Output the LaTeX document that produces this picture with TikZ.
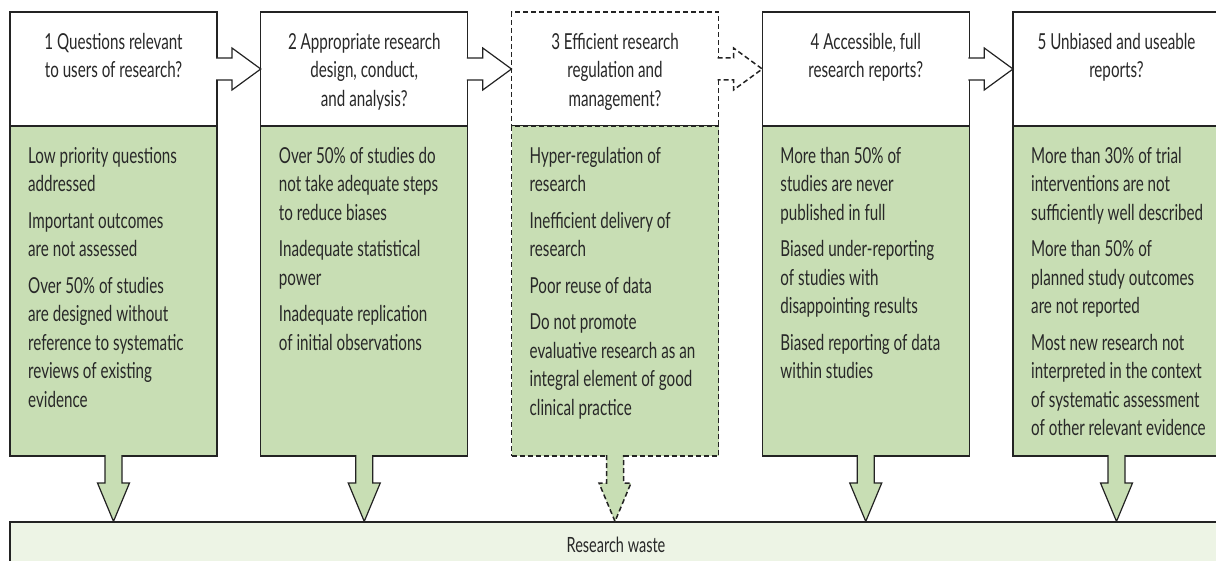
\documentclass[tikz,border=0pt]{standalone}
\usepackage{fontspec}
\setmainfont{Lato}[FakeStretch=0.69]
\usepackage{xcolor}
\usepackage{tikz}
\usetikzlibrary{calc,positioning}
\definecolor{boxgreen}{RGB}{200,222,180}
\definecolor{wastegreen}{RGB}{237,244,229}
\definecolor{linegrey}{RGB}{35,35,35}
\definecolor{textgrey}{RGB}{40,40,40}
\tikzset{
  qbox/.style={draw=linegrey, line width=1.2pt, fill=white, minimum width=207pt, minimum height=114pt, inner sep=0pt, outer sep=0pt},
  gbox/.style={draw=linegrey, line width=1.2pt, fill=boxgreen, minimum width=207pt, minimum height=330pt, inner sep=0pt, outer sep=0pt},
  qtext/.style={align=center, inner sep=0pt, text=textgrey, font=\fontsize{22}{28.5}\selectfont},
  gtext/.style={align=left, inner sep=0pt, text=textgrey, font=\fontsize{22}{28.5}\selectfont},
  harrow/.style={draw=linegrey, line width=1.2pt, fill=white},
  darrow/.style={draw=linegrey, line width=1.2pt, fill=boxgreen},
  eff/.style={line width=1.5pt, dash pattern=on 5pt off 3pt},
  waste/.style={draw=linegrey, line width=1.2pt, fill=wastegreen, minimum width=1212pt, minimum height=46pt, inner sep=0pt, text=textgrey, font=\fontsize{21}{22}\selectfont}
}

\begin{document}
\begin{tikzpicture}[x=1pt,y=-1pt]
	\useasboundingbox (0,0) rectangle (1216,561);
	\clip (0,0) rectangle (1216,561);
	\node[qbox] (h1) at (113.5,69) {};
	\node[qbox] (h2) at (364.25,69) {};
	\node[qbox, eff] (h3) at (615,69) {};
	\node[qbox] (h4) at (865.75,69) {};
	\node[qbox] (h5) at (1116.5,69) {};
	\node[gbox, below=0pt of h1] (g1) {};
	\node[gbox, below=0pt of h2] (g2) {};
	\node[gbox, eff, below=0pt of h3] (g3) {};
	\node[gbox, below=0pt of h4] (g4) {};
	\node[gbox, below=0pt of h5] (g5) {};
	\node[waste] (w) at (616,545) {Research waste};

	\draw[harrow] ($(h1.east)+(-1,-11)$) -- ++(16,0) -- ++(0,-10) -- (h2.west) -- ($(h1.east)+(15,21)$) -- ++(0,-10) -- ++(-16,0);
	\draw[harrow] ($(h2.east)+(-1,-11)$) -- ++(16,0) -- ++(0,-10) -- (h3.west) -- ($(h2.east)+(15,21)$) -- ++(0,-10) -- ++(-16,0);
	\draw[harrow, eff] ($(h3.east)+(-1,-11)$) -- ++(16,0) -- ++(0,-10) -- (h4.west) -- ($(h3.east)+(15,21)$) -- ++(0,-10) -- ++(-16,0);
	\draw[harrow] ($(h4.east)+(-1,-11)$) -- ++(16,0) -- ++(0,-10) -- (h5.west) -- ($(h4.east)+(15,21)$) -- ++(0,-10) -- ++(-16,0);

	\draw[darrow] ($(g1.south)+(-8.5,-1)$) -- ++(0,28) -- ++(-7.5,0) -- (g1.south |- w.north) -- ($(g1.south)+(16,27)$) -- ++(-7.5,0) -- ++(0,-28);
	\draw[darrow] ($(g2.south)+(-8.5,-1)$) -- ++(0,28) -- ++(-7.5,0) -- (g2.south |- w.north) -- ($(g2.south)+(16,27)$) -- ++(-7.5,0) -- ++(0,-28);
	\draw[darrow, eff] ($(g3.south)+(-8.5,-1)$) -- ++(0,28) -- ++(-7.5,0) -- (g3.south |- w.north) -- ($(g3.south)+(16,27)$) -- ++(-7.5,0) -- ++(0,-28);
	\draw[darrow] ($(g4.south)+(-8.5,-1)$) -- ++(0,28) -- ++(-7.5,0) -- (g4.south |- w.north) -- ($(g4.south)+(16,27)$) -- ++(-7.5,0) -- ++(0,-28);
	\draw[darrow] ($(g5.south)+(-8.5,-1)$) -- ++(0,28) -- ++(-7.5,0) -- (g5.south |- w.north) -- ($(g5.south)+(16,27)$) -- ++(-7.5,0) -- ++(0,-28);

	\node[qtext, below=21pt of h1.north] (q1) {1 Questions relevant\\to users of research?};
	\node[qtext, below=21pt of h2.north] (q2) {2 Appropriate research\\design, conduct,\\and analysis?};
	\node[qtext, below=21pt of h3.north] (q3) {3 Efficient research\\regulation and\\management?};
	\node[qtext, below=21pt of h4.north] (q4) {4 Accessible, full\\research reports?};
	\node[qtext, below=21pt of h5.north] (q5) {5 Unbiased and useable\\reports?};

	\node[gtext, below right=21pt and 18pt of g1.north west] (t1) {Low priority questions\\addressed\\[8pt]Important outcomes\\are not assessed\\[8pt]Over 50\% of studies\\are designed without\\reference to systematic\\reviews of existing\\evidence};
	\node[gtext, below right=21pt and 18pt of g2.north west] (t2) {Over 50\% of studies do\\not take adequate steps\\to reduce biases\\[8pt]Inadequate statistical\\power\\[8pt]Inadequate replication\\of initial observations};
	\node[gtext, below right=21pt and 18pt of g3.north west] (t3) {Hyper-regulation of\\research\\[8pt]Inefficient delivery of\\research\\[8pt]Poor reuse of data\\[8pt]Do not promote\\evaluative research as an\\integral element of good\\clinical practice};
	\node[gtext, below right=21pt and 18pt of g4.north west] (t4) {More than 50\% of\\studies are never\\published in full\\[8pt]Biased under-reporting\\of studies with\\disappointing results\\[8pt]Biased reporting of data\\within studies};
	\node[gtext, below right=21pt and 18pt of g5.north west] (t5) {More than 30\% of trial\\interventions are not\\sufficiently well described\\[8pt]More than 50\% of\\planned study outcomes\\are not reported\\[8pt]Most new research not\\interpreted in the context\\of systematic assessment\\of other relevant evidence};
\end{tikzpicture}
\end{document}
